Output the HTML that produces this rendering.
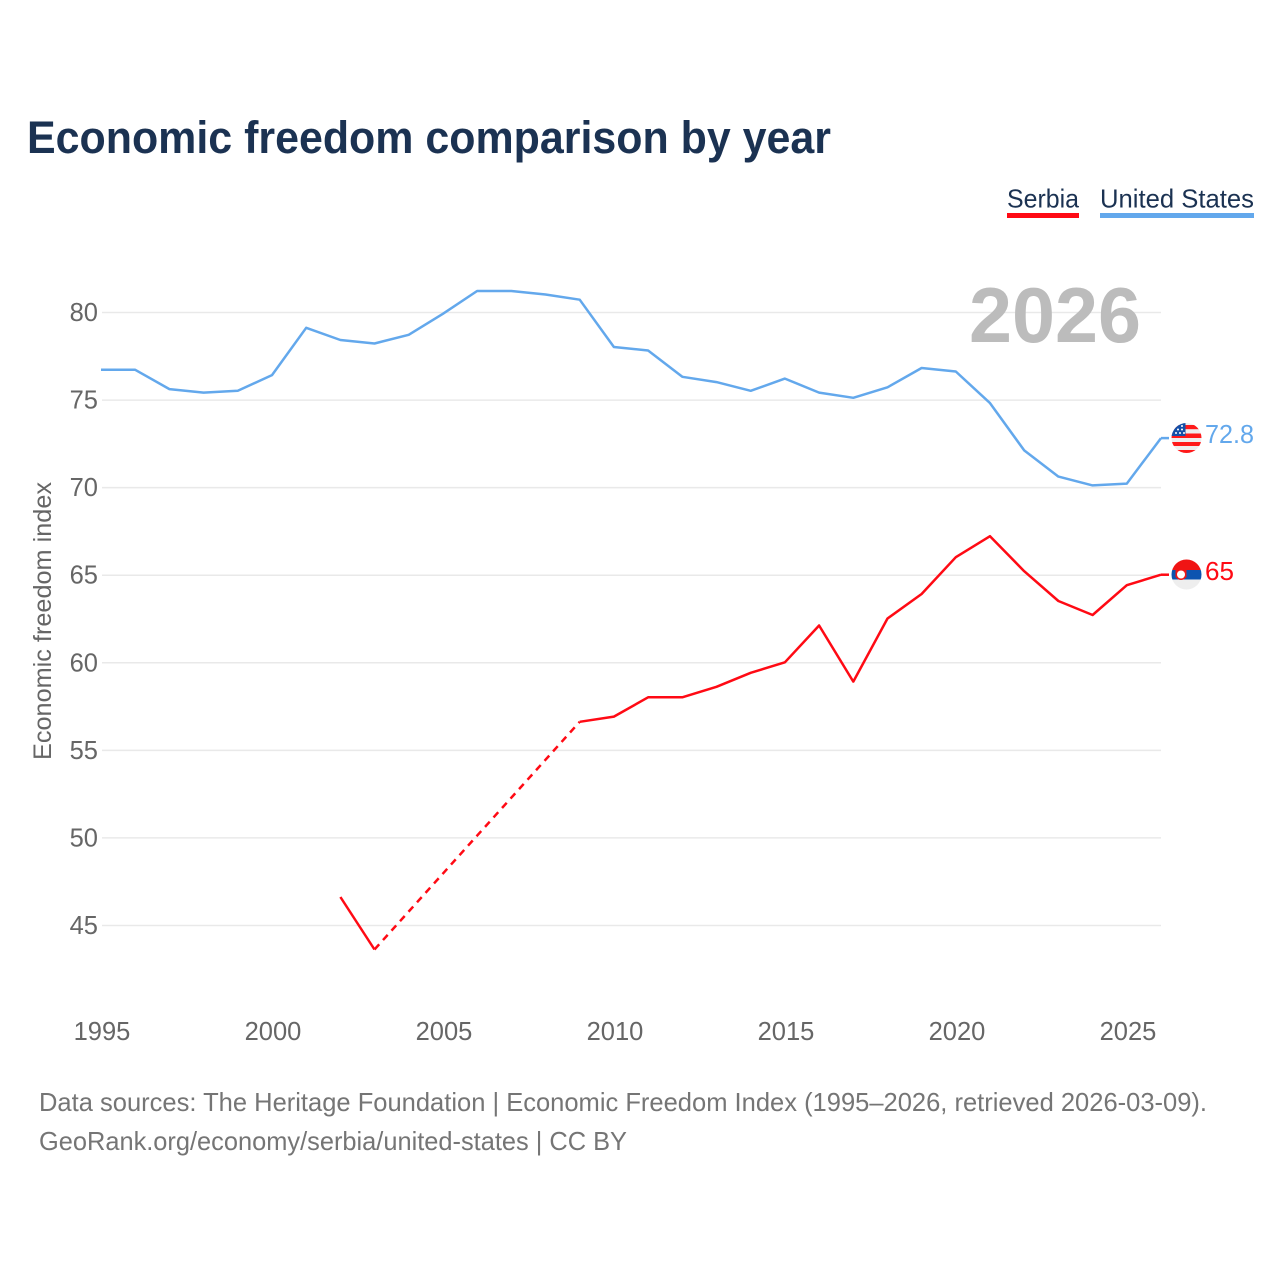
<!DOCTYPE html>
<html lang="en">
<head>
<meta charset="utf-8">
<title>Economic freedom comparison by year</title>
<style>
html,body{margin:0;padding:0;background:#fff;width:1280px;height:1280px;overflow:hidden}
svg{display:block}
text{font-family:"Liberation Sans",sans-serif}
</style>
</head>
<body>
<svg id="chart" width="1280" height="1280" viewBox="0 0 1280 1280" xmlns="http://www.w3.org/2000/svg">
  <defs>
    <clipPath id="flag-clip-us"><circle cx="1186.5" cy="438" r="15"/></clipPath>
    <clipPath id="flag-clip-rs"><circle cx="1186.5" cy="574.500" r="15"/></clipPath>
  </defs>
  <rect width="1280" height="1280" fill="#fff"/>
  <text x="27" y="153" font-size="45" font-weight="700" fill="#1b3252" textLength="804" lengthAdjust="spacingAndGlyphs">Economic freedom comparison by year</text>
  <g>
    <text x="1007" y="207.500" font-size="26" fill="#1b3252" textLength="72" lengthAdjust="spacingAndGlyphs">Serbia</text>
    <rect x="1007" y="213" width="72" height="5" fill="#ff0a14"/>
  </g>
  <g>
    <text x="1100" y="207.500" font-size="26" fill="#1b3252" textLength="154" lengthAdjust="spacingAndGlyphs">United States</text>
    <rect x="1100" y="213" width="154" height="5" fill="#63a8ec"/>
  </g>
  <g id="grid"></g>
  <text x="969" y="342" font-size="78" font-weight="700" fill="#bcbcbc" textLength="172" lengthAdjust="spacingAndGlyphs">2026</text>
  <g id="y-ticks"></g>
  <g id="x-ticks"></g>
  <text transform="translate(51,621) rotate(-90)" text-anchor="middle" font-size="25" fill="#666" textLength="278" lengthAdjust="spacingAndGlyphs">Economic freedom index</text>
  <g id="series"></g>
  <g clip-path="url(#flag-clip-us)">
    <rect x="1171" y="423" width="31" height="31" fill="#eee"/>
    <rect x="1171" y="425" width="31" height="4.200" fill="#ff1a1a"/>
    <rect x="1171" y="433.500" width="31" height="4.500" fill="#ff1a1a"/>
    <rect x="1171" y="442" width="31" height="4" fill="#ff1a1a"/>
    <rect x="1171" y="450" width="31" height="3" fill="#ff1a1a"/>
    <rect x="1171" y="423" width="14.500" height="13" fill="#1450a8"/>
    <circle cx="1176" cy="433" r="1" fill="#fff"/><circle cx="1180" cy="433" r="1" fill="#fff"/><circle cx="1184" cy="433" r="1" fill="#fff"/>
    <circle cx="1178" cy="429.500" r="1" fill="#fff"/><circle cx="1182" cy="429.500" r="1" fill="#fff"/><circle cx="1182" cy="426" r="1" fill="#fff"/>
  </g>
  <g clip-path="url(#flag-clip-rs)">
    <rect x="1171" y="559" width="31" height="11" fill="#f01414"/>
    <rect x="1171" y="570" width="31" height="9.500" fill="#0d54b0"/>
    <rect x="1171" y="579.500" width="31" height="11" fill="#eeeeee"/>
    <path d="M1175.500 565h11v12q-5.500 6-11 0z" fill="#f01414"/>
    <circle cx="1181" cy="574.500" r="4" fill="#fff"/>
  </g>
  <text id="label-us" x="1205" y="443" font-size="26" fill="#63a8ec" textLength="49" lengthAdjust="spacingAndGlyphs"></text>
  <text id="label-rs" x="1205" y="580" font-size="26" fill="#ff0a14" textLength="29" lengthAdjust="spacingAndGlyphs"></text>
  <text x="39" y="1111" font-size="26" fill="#757575" textLength="1168" lengthAdjust="spacingAndGlyphs">Data sources: The Heritage Foundation | Economic Freedom Index (1995–2026, retrieved 2026-03-09).</text>
  <text x="39" y="1150" font-size="26" fill="#757575" textLength="588" lengthAdjust="spacingAndGlyphs">GeoRank.org/economy/serbia/united-states | CC BY</text>
</svg>
<script>
const years = [1995,1996,1997,1998,1999,2000,2001,2002,2003,2004,2005,2006,2007,2008,2009,2010,2011,2012,2013,2014,2015,2016,2017,2018,2019,2020,2021,2022,2023,2024,2025,2026];
const unitedStates = [76.7,76.7,75.6,75.4,75.5,76.4,79.1,78.4,78.2,78.7,79.9,81.2,81.2,81.0,80.7,78.0,77.8,76.3,76.0,75.5,76.2,75.4,75.1,75.7,76.8,76.6,74.8,72.1,70.6,70.1,70.2,72.8];
const serbia = [null,null,null,null,null,null,null,46.6,43.6,null,null,null,null,null,56.6,56.9,58.0,58.0,58.6,59.4,60.0,62.1,58.9,62.5,63.9,66.0,67.2,65.2,63.5,62.7,64.4,65.0];
const yTickValues = [45,50,55,60,65,70,75,80];
const xTickValues = [1995,2000,2005,2010,2015,2020,2025];

const NS = 'http://www.w3.org/2000/svg';
const plotLeft = 101, plotRight = 1161;
const labelLeft = 102, labelStep = 34.2;
function xScale(year){ return plotLeft + (year - 1995) * (plotRight - plotLeft) / 31; }
function xLabelScale(year){ return labelLeft + (year - 1995) * labelStep; }
function yScale(v){ return 312 + (80 - v) * 613 / 35; }

function make(tag, parent, attrs){
  const el = document.createElementNS(NS, tag);
  for (const k in attrs) el.setAttribute(k, attrs[k]);
  parent.appendChild(el);
  return el;
}

const grid = document.getElementById('grid');
const yTicks = document.getElementById('y-ticks');
yTickValues.forEach(function(v){
  const line = make('line', grid, {x1: plotLeft + 1, x2: plotRight, y1: yScale(v) + 0.5, y2: yScale(v) + 0.5, stroke: '#e9e9e9', 'stroke-width': 1.5});
  
  
  const label = make('text', yTicks, {x: 98, y: yScale(v) + 9, 'text-anchor': 'end', 'font-size': 25.5, fill: '#666'});
  
  
  label.textContent = v;
});

const xTicks = document.getElementById('x-ticks');
xTickValues.forEach(function(yr){
  const label = make('text', xTicks, {x: xLabelScale(yr), y: 1040, 'text-anchor': 'middle', 'font-size': 25.5, fill: '#666'});
  
  
  label.textContent = yr;
});

function drawSeries(values, color, name){
  const group = document.getElementById('series');
  let prev = -1;
  let run = '';
  function flush(){
    if (!run) return;
    const p = make('path', group, {d: run, fill: 'none', stroke: color, 'stroke-width': 2.5, 'stroke-linejoin': 'round'});
    
    
    run = '';
  }
  values.forEach(function(v, i){
    if (v === null) return;
    const px = xScale(years[i]).toFixed(1), py = yScale(v).toFixed(1);
    if (prev < 0) {
      run = 'M' + px + ' ' + py;
    } else if (i - prev > 1) {
      flush();
      const d = make('path', group, {d: 'M' + xScale(years[prev]).toFixed(1) + ' ' + yScale(values[prev]).toFixed(1) + 'L' + px + ' ' + py, fill: 'none', stroke: color, 'stroke-width': 2.5, 'stroke-dasharray': '7 5.7'});
      
      
      run = 'M' + px + ' ' + py;
    } else {
      run += 'L' + px + ' ' + py;
    }
    prev = i;
  });
  flush();
  const last = values[values.length - 1];
  const stub = make('line', group, {x1: plotRight, x2: 1169, y1: yScale(last), y2: yScale(last), stroke: color, 'stroke-width': 2.5});
  
  
}
drawSeries(unitedStates, '#63a8ec', 'united-states');
drawSeries(serbia, '#ff0a14', 'serbia');

document.getElementById('label-us').textContent = unitedStates[unitedStates.length - 1];
document.getElementById('label-rs').textContent = serbia[serbia.length - 1];
</script>
</body>
</html>
